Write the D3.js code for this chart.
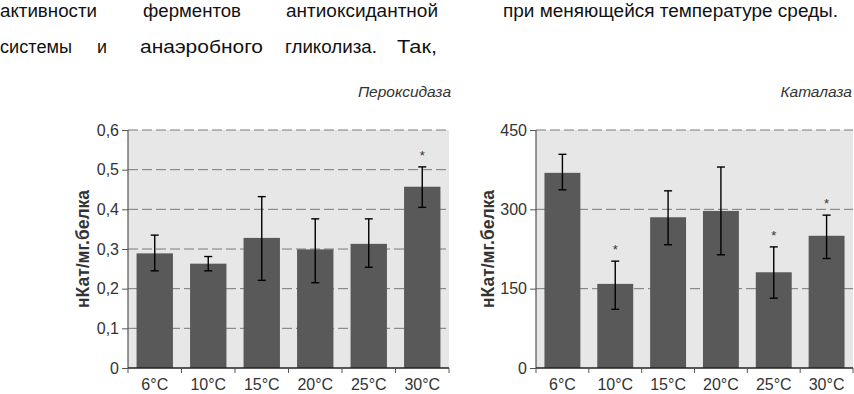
<!DOCTYPE html>
<html><head><meta charset="utf-8">
<script src="https://cdn.jsdelivr.net/npm/d3@7"></script>
<style>html,body{margin:0;padding:0;background:#fff;}svg{display:block;}</style>
</head><body>
<svg id="c" width="854" height="394"></svg>
<script>
// ---- data ----
const categories = ["6°C","10°C","15°C","20°C","25°C","30°C"];
const peroxValues = [0.289, 0.263, 0.328, 0.299, 0.313, 0.457];
const peroxErrLow = [0.245, 0.245, 0.221, 0.215, 0.254, 0.405];
const peroxErrHigh = [0.335, 0.281, 0.432, 0.376, 0.376, 0.507];
const peroxStars = [false, false, false, false, false, true];
const peroxTicks = [0, 0.1, 0.2, 0.3, 0.4, 0.5, 0.6];

const catalValues = [369, 159, 285, 297, 181, 250];
const catalErrLow = [337, 111, 233, 214, 132, 207];
const catalErrHigh = [404, 202, 335, 380, 229, 289];
const catalStars = [false, true, false, false, true, true];
const catalTicks = [0, 150, 300, 450];

const headerLine1 = ["активности","ферментов","антиоксидантной","при меняющейся температуре среды."];
const headerLine2 = ["системы","и","анаэробного","гликолиза.","Так,"];
const yTitle = "нКат/мг.белка";
const chartTitles = ["Пероксидаза","Каталаза"];

// ---- layout ----
const svg = d3.select("#c");
const line1Layout = [[0,97],[143,98],[286,152],[503,335]];
const line2Layout = [[0,72],[97,10],[140,123],[285,92],[397,40]];

function header(words, layout, y){
  svg.append("g").selectAll("text").data(words).join("text")
    .attr("x",(d,i)=>layout[i][0]).attr("y",y)
    .attr("textLength",(d,i)=>layout[i][1]).attr("lengthAdjust","spacingAndGlyphs")
    .attr("font-family","'Liberation Sans',Arial,sans-serif").attr("font-size",17.5)
    .attr("fill","#111").text(d=>d);
}
header(headerLine1, line1Layout, 16.5);
header(headerLine2, line2Layout, 53);

function chart(opt){
  const {x0,x1,yTop,yBot,values,lo,hi,stars,ticks,fmt,title,titleX,ylabX} = opt;
  const g = svg.append("g");
  const x = d3.scaleBand().domain(categories).range([x0,x1]).paddingInner(0.32).paddingOuter(0.16);
  const y = d3.scaleLinear().domain([0, ticks[ticks.length-1]]).range([yBot,yTop]);
  // background
  g.append("rect").attr("x",x0).attr("y",yTop).attr("width",x1-x0).attr("height",yBot-yTop).attr("fill","#e7e7e7");
  // grid
  g.append("g").selectAll("line").data(ticks.filter(t=>t>0)).join("line")
    .attr("x1",x0).attr("x2",x1).attr("y1",d=>y(d)).attr("y2",d=>y(d))
    .attr("stroke","#7a7a7a").attr("stroke-width",1).attr("stroke-dasharray","10,4");
  // bars
  g.append("g").selectAll("rect").data(values).join("rect")
    .attr("x",(d,i)=>x(categories[i])).attr("width",x.bandwidth())
    .attr("y",d=>y(d)).attr("height",d=>yBot-y(d)).attr("fill","#595959");
  // error bars
  const eb = g.append("g").attr("stroke","#000").attr("stroke-width",1.4);
  categories.forEach((c,i)=>{
    const cx = x(c)+x.bandwidth()/2;
    eb.append("line").attr("x1",cx).attr("x2",cx).attr("y1",y(lo[i])).attr("y2",y(hi[i]));
    eb.append("line").attr("x1",cx-4).attr("x2",cx+4).attr("y1",y(lo[i])).attr("y2",y(lo[i]));
    eb.append("line").attr("x1",cx-4).attr("x2",cx+4).attr("y1",y(hi[i])).attr("y2",y(hi[i]));
    if(stars[i]) g.append("text").attr("x",cx).attr("y",y(hi[i])-7).attr("text-anchor","middle")
      .attr("font-family","'Liberation Sans',Arial,sans-serif").attr("font-size",13).attr("fill","#333").text("*");
  });
  // y axis
  const ya = d3.axisLeft(y).tickValues(ticks).tickSize(6).tickPadding(3).tickFormat(fmt);
  const yg = g.append("g").attr("transform",`translate(${x0},0)`).call(ya);
  yg.select(".domain").attr("stroke","#555").attr("stroke-width",1.2).attr("d",`M0,${yTop}V${yBot}`);
  yg.selectAll(".tick line").attr("stroke","#555");
  yg.selectAll(".tick text").attr("font-family","'Liberation Sans',Arial,sans-serif").attr("font-size",16).attr("fill","#333");
  // x axis
  const xa = d3.axisBottom(x).tickSize(0).tickPadding(11);
  const xg = g.append("g").attr("transform",`translate(0,${yBot})`).call(xa);
  xg.select(".domain").attr("stroke","#222").attr("stroke-width",1.4).attr("d",`M${x0},0H${x1}`);
  xg.selectAll(".tick text").attr("font-family","'Liberation Sans',Arial,sans-serif").attr("font-size",16).attr("fill","#333");
  // category boundary ticks
  const bounds = categories.map(c=> x(c) - (x.step()-x.bandwidth())/2);
  bounds.push(x1);
  g.append("g").selectAll("line").data(bounds).join("line")
    .attr("x1",d=>d).attr("x2",d=>d).attr("y1",yBot).attr("y2",yBot+5).attr("stroke","#555");
  // y title
  g.append("text").attr("transform",`translate(${ylabX},${(yTop+yBot)/2}) rotate(-90)`)
    .attr("text-anchor","middle").attr("font-family","'Liberation Sans',Arial,sans-serif")
    .attr("font-size",17.5).attr("font-weight","bold").attr("fill","#333").text(yTitle);
  // chart title
  g.append("text").attr("x",titleX).attr("y",97).attr("text-anchor","end")
    .attr("font-family","'Liberation Sans',Arial,sans-serif").attr("font-style","italic")
    .attr("font-size",15.5).attr("fill","#333").text(title);
}

chart({x0:128,x1:449,yTop:130,yBot:368,values:peroxValues,lo:peroxErrLow,hi:peroxErrHigh,stars:peroxStars,
  ticks:peroxTicks,fmt:d=>d3.format(".1~f")(d).replace(".",","),title:chartTitles[0],titleX:451,ylabX:89});
chart({x0:536,x1:853,yTop:130,yBot:368,values:catalValues,lo:catalErrLow,hi:catalErrHigh,stars:catalStars,
  ticks:catalTicks,fmt:d=>String(d),title:chartTitles[1],titleX:852,ylabX:494});
</script>
</body></html>
